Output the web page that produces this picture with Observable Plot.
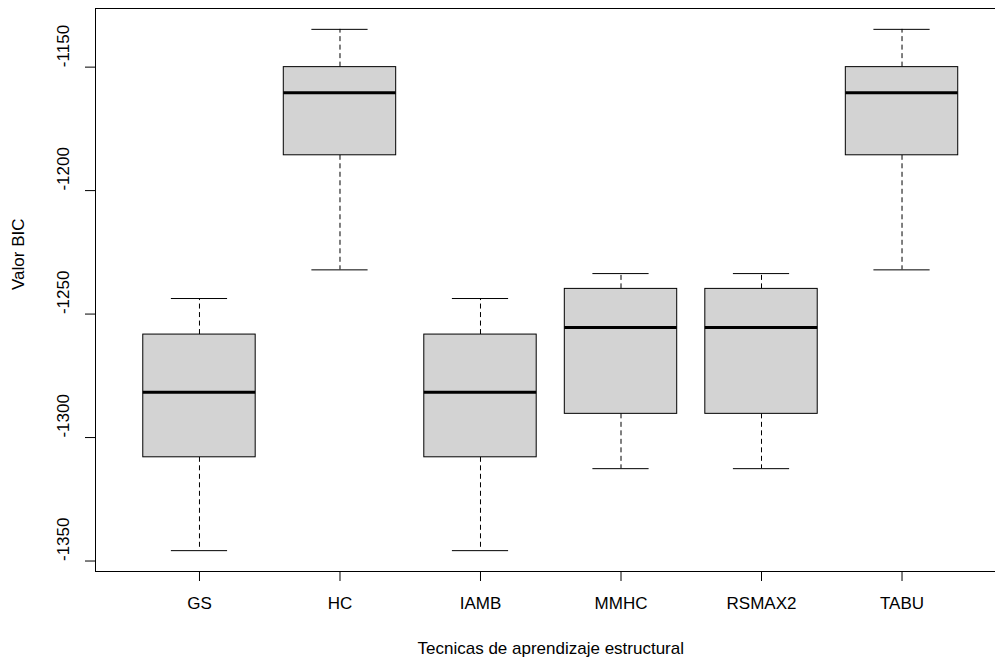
<!DOCTYPE html>
<html>
<head>
<meta charset="utf-8">
<script src="https://cdn.jsdelivr.net/npm/d3@7"></script>
<script src="https://cdn.jsdelivr.net/npm/@observablehq/plot@0.6"></script>
<style>
  html, body { margin: 0; padding: 0; background: #fff; }
  #chart svg { display: block; }
</style>
</head>
<body>
<div id="chart"></div>
<script>
const categories = ["GS", "HC", "IAMB", "MMHC", "RSMAX2", "TABU"];
const lowerWhisker = [-1345.8, -1232.1, -1345.8, -1312.6, -1312.6, -1232.1];
const q1 = [-1308.0, -1185.7, -1308.0, -1290.4, -1290.4, -1185.7];
const median = [-1281.7, -1160.4, -1281.7, -1255.4, -1255.4, -1160.4];
const q3 = [-1258.3, -1150.0, -1258.3, -1239.8, -1239.8, -1150.0];
const upperWhisker = [-1243.7, -1134.7, -1243.7, -1233.6, -1233.6, -1134.7];
const yTicks = [-1350, -1300, -1250, -1200, -1150];
const xLabel = "Tecnicas de aprendizaje estructural";
const yLabel = "Valor BIC";

const data = categories.map((c, i) => ({
  name: c, idx: i + 1,
  lo: lowerWhisker[i], q1: q1[i], med: median[i], q3: q3[i], hi: upperWhisker[i]
}));

// R-style 4% axis extension
const n = categories.length;
const xDom = [0.5 - 0.04 * n, n + 0.5 + 0.04 * n];
const yMin = d3.min(lowerWhisker), yMax = d3.max(upperWhisker);
const yPad = (yMax - yMin) * 0.04;
const yDom = [yMin - yPad, yMax + yPad];

const font = "'Liberation Sans', Arial, sans-serif";

const chart = Plot.plot({
  width: 995,
  height: 661,
  marginLeft: 95,
  marginRight: 0,
  marginTop: 8,
  marginBottom: 90,
  style: { fontFamily: font, fontSize: "17px", color: "black", background: "white" },
  x: { domain: xDom, range: [95, 1005.5] },
  y: { domain: yDom },
  marks: [
    // whiskers (dashed)
    Plot.ruleX(data, { x: "idx", y1: "q3", y2: "hi", stroke: "black", strokeWidth: 1, strokeDasharray: "5,3.5" }),
    Plot.ruleX(data, { x: "idx", y1: "q1", y2: "lo", stroke: "black", strokeWidth: 1, strokeDasharray: "5,3.5" }),
    // caps
    Plot.ruleY(data, { y: "hi", x1: d => d.idx - 0.2, x2: d => d.idx + 0.2, stroke: "black", strokeWidth: 1 }),
    Plot.ruleY(data, { y: "lo", x1: d => d.idx - 0.2, x2: d => d.idx + 0.2, stroke: "black", strokeWidth: 1 }),
    // boxes
    Plot.rect(data, { x1: d => d.idx - 0.4, x2: d => d.idx + 0.4, y1: "q1", y2: "q3", fill: "#d3d3d3", stroke: "black", strokeWidth: 1 }),
    // medians
    Plot.ruleY(data, { y: "med", x1: d => d.idx - 0.4, x2: d => d.idx + 0.4, stroke: "black", strokeWidth: 3 }),
    // frame (left, top, bottom)
    Plot.ruleY(yDom, { stroke: "black", strokeWidth: 1 }),
    Plot.ruleX([xDom[0]], { stroke: "black", strokeWidth: 1 }),
    // y axis ticks
    Plot.axisY({ ticks: yTicks, tickSize: 10, tickFormat: () => "", label: null, stroke: "black" }),
    // y tick labels rotated
    Plot.text(yTicks, { y: d => d, text: d => String(d), frameAnchor: "left", dx: -32, rotate: -90, fill: "black", fontSize: 17 }),
    // x axis
    Plot.axisX({ ticks: categories.map((c, i) => i + 1), tickSize: 10, tickPadding: 15, tickFormat: d => categories[d - 1], label: null, fill: "black", stroke: "black", fontSize: 17 }),
    // axis titles
    Plot.text([xLabel], { x: (xDom[0] + xDom[1]) / 2, frameAnchor: "bottom", dy: 82, text: d => d, fill: "black", fontSize: 17 }),
    Plot.text([yLabel], { y: (yDom[0] + yDom[1]) / 2, frameAnchor: "left", dx: -77, rotate: -90, text: d => d, fill: "black", fontSize: 17 })
  ]
});
document.getElementById("chart").appendChild(chart);
</script>
</body>
</html>
